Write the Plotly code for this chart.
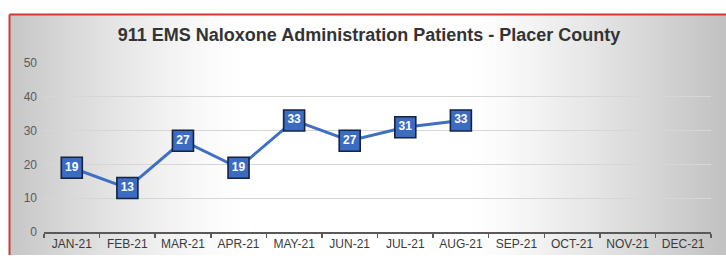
import plotly.graph_objects as go

months = ["JAN-21", "FEB-21", "MAR-21", "APR-21", "MAY-21", "JUN-21",
          "JUL-21", "AUG-21", "SEP-21", "OCT-21", "NOV-21", "DEC-21"]
patients = [19, 13, 27, 19, 33, 27, 31, 33, None, None, None, None]
y_ticks = [0, 10, 20, 30, 40, 50]
title_text = "911 EMS Naloxone Administration Patients - Placer County"

W, H = 726, 263
L, R, T, B = 44, 15, 63, 24
PW = W - L - R
PH = H - T - B


def px_x(x):
    """screen pixel x -> paper x"""
    return (x - L) / PW


def px_y(y):
    """screen pixel y -> paper y"""
    return (H - B - y) / PH


def gray_at(x):
    if x < 245:
        t = (245 - x) / (245 - 10)
        v = 255 - 57 * t ** 1.3
    elif x > 470:
        t = (x - 470) / (726 - 470)
        v = 255 - 62 * t ** 1.2
    else:
        v = 255
    return int(round(v))


shapes = []
step = 4
x = 10
while x < W:
    x2 = min(x + step, W)
    g = gray_at((x + x2) / 2)
    shapes.append(dict(type="rect", xref="paper", yref="paper",
                       x0=px_x(x), x1=px_x(x2) + 0.0005, y0=px_y(H), y1=px_y(13),
                       fillcolor=f"rgb({g},{g},{g})", line=dict(width=0), layer="below"))
    x = x2

# red frame (top and left)
shapes.append(dict(type="line", xref="paper", yref="paper",
                   x0=px_x(9.5), x1=px_x(W), y0=px_y(12.5), y1=px_y(12.5),
                   line=dict(color="#cf3a32", width=2), layer="above"))
shapes.append(dict(type="line", xref="paper", yref="paper",
                   x0=px_x(9.5), x1=px_x(9.5), y0=px_y(12.5), y1=px_y(H),
                   line=dict(color="#cf3a32", width=2), layer="above"))

fig = go.Figure()
fig.add_trace(go.Scatter(
    x=months, y=patients, mode="lines+markers+text",
    line=dict(color="#3f6fc4", width=3),
    marker=dict(symbol="square", size=21, color="#3b6cc2",
                line=dict(color="#16223f", width=1.6)),
    text=[str(v) if v is not None else "" for v in patients],
    textposition="middle center",
    textfont=dict(family="Liberation Sans, Arial", size=12, color="white", weight="bold"),
    cliponaxis=False, hoverinfo="skip", showlegend=False,
))

fig.update_layout(
    width=W, height=H,
    margin=dict(l=L, r=R, t=T, b=B),
    paper_bgcolor="white", plot_bgcolor="rgba(0,0,0,0)",
    shapes=shapes,
    hovermode=False,
    title=dict(text=title_text, x=369 / W, xanchor="center",
               y=(H - 35) / H, yanchor="middle",
               font=dict(family="Liberation Sans, Arial", size=18, color="#333333", weight="bold")),
    font=dict(family="Liberation Sans, Arial"),
)
fig.update_xaxes(
    type="category", categoryorder="array", categoryarray=months,
    range=[-0.5, 11.5], showgrid=False, zeroline=False,
    showline=True, linecolor="#5a5a5a", linewidth=2,
    ticks="outside", tickson="boundaries", ticklen=4, tickwidth=1.5, tickcolor="#5a5a5a",
    tickfont=dict(size=12, color="#3a3a3a"),
)
fig.update_yaxes(
    range=[0, 50], tickvals=y_ticks, showgrid=True, gridcolor="#d6d6d6", gridwidth=1,
    zeroline=False, showline=False, ticks="", ticklabelstandoff=6,
    tickfont=dict(size=12, color="#5a5a5a"),
)

fig.write_html("out.html",
               config={"displayModeBar": False, "staticPlot": True},
               post_script="document.body.style.margin='0';document.body.style.overflow='hidden';")
